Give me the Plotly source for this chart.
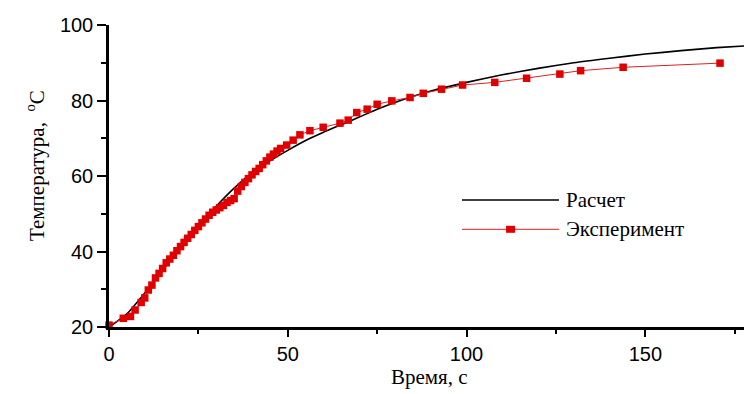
import plotly.graph_objects as go

# Calculated curve (Расчет)
calc_t = [0, 5, 10, 15, 20, 25, 30, 35, 40, 45, 50, 55, 60, 65, 70, 75, 80, 90,
          100, 110, 120, 130, 140, 150, 160, 170, 180]
calc_T = [20, 23.5, 29, 35, 41, 46.7, 52, 56.8, 60.8, 64, 66.8, 69.4, 71.6,
          73.6, 75.6, 77.7, 79.5, 82.5, 84.8, 86.8, 88.5, 90, 91.2, 92.3, 93.2, 94, 94.6]

# Experimental data (Эксперимент)
exp_t = [0, 4, 6, 7.3, 9, 10, 11, 12, 13, 14, 15, 16, 17, 18, 19, 20, 21, 22, 23,
         24, 25, 26, 27, 28, 29, 30, 31, 32, 33, 34, 35, 36, 37, 38, 39, 40, 41,
         42, 43, 44, 45, 46, 47, 48, 49.7, 51.5, 53.4, 56.2, 59.9, 64.6, 66.9,
         69.3, 72.2, 75, 79.1, 84.2, 87.9, 93, 98.9, 107.9, 116.8, 126.1, 131.9,
         143.8, 170.9]
exp_T = [20.5, 22.3, 22.8, 24.5, 26.5, 27.7, 29.8, 31.1, 33, 34.2, 35.5, 37, 38,
         39, 40.2, 41.3, 42.4, 43.5, 44.5, 45.6, 46.6, 47.6, 48.6, 49.6, 50.4, 51,
         51.6, 52.2, 53, 53.5, 54, 56, 57.2, 58.3, 59.3, 60.3, 61.2, 62, 63, 64,
         65, 65.8, 66.6, 67.3, 68.2, 69.5, 70.9, 72, 72.9, 74, 74.8, 76.8, 77.7,
         79, 79.9, 80.8, 81.9, 83, 84.1, 84.8, 85.9, 87, 87.9, 88.8, 89.9]

x_ticks = [0, 50, 100, 150]
y_ticks = [20, 40, 60, 80, 100]

RED = "#e00000"
serif = "Liberation Serif, Times New Roman, serif"
sans = "Liberation Sans, Arial, sans-serif"

fig = go.Figure()
fig.add_trace(go.Scatter(x=calc_t, y=calc_T, mode="lines", name="Расчет",
                         line=dict(color="black", width=1.6, shape="spline",
                                   smoothing=0.6), showlegend=False))
fig.add_trace(go.Scatter(x=exp_t, y=exp_T, mode="lines+markers", name="Эксперимент",
                         line=dict(color="#e02020", width=1),
                         marker=dict(symbol="square", size=7.5, color=RED),
                         cliponaxis=False, showlegend=False))

axis_common = dict(showline=True, linecolor="black", linewidth=2.5, ticks="outside",
                   tickcolor="black", tickwidth=2, showgrid=False, zeroline=False,
                   tickfont=dict(family=sans, size=20, color="black"))

fig.update_xaxes(range=[0, 177.6], tickvals=x_ticks, ticklen=7,
                 minor=dict(dtick=25, tick0=0, ticks="outside", ticklen=4,
                            tickwidth=2, tickcolor="black"),
                 **axis_common)
fig.update_yaxes(range=[20, 100], tickvals=y_ticks, ticklen=9,
                 minor=dict(dtick=10, tick0=0, ticks="outside", ticklen=5,
                            tickwidth=2, tickcolor="black"),
                 **axis_common)

# Legend drawn manually to match the long sample lines
lx0, lx1, lmark = 0.5559, 0.7087, 0.6324
ly1, ly2 = 0.4205, 0.3235
fig.add_shape(type="line", xref="paper", yref="paper", x0=lx0, x1=lx1, y0=ly1, y1=ly1,
              line=dict(color="black", width=1.6))
fig.add_shape(type="line", xref="paper", yref="paper", x0=lx0, x1=lx1, y0=ly2, y1=ly2,
              line=dict(color="#e02020", width=1))
fig.add_shape(type="rect", xref="paper", yref="paper", xsizemode="pixel",
              ysizemode="pixel", xanchor=lmark, yanchor=ly2, x0=-4.5, x1=4.5,
              y0=-3.5, y1=3.5, fillcolor=RED, line=dict(width=0))
fig.add_annotation(text="Расчет", xref="paper", yref="paper", x=0.717, y=ly1,
                   xanchor="left", yanchor="middle", showarrow=False,
                   font=dict(family=serif, size=21, color="black"))
fig.add_annotation(text="Эксперимент", xref="paper", yref="paper", x=0.717, y=ly2,
                   xanchor="left", yanchor="middle", showarrow=False,
                   font=dict(family=serif, size=21, color="black"))

# Axis titles
fig.add_annotation(text="Время, с", xref="paper", yref="paper", x=0.5055, y=-0.165,
                   xanchor="center", yanchor="middle", showarrow=False,
                   font=dict(family=serif, size=21, color="black"))
fig.add_annotation(text="Температура,  <sup>o</sup>C", xref="paper", yref="paper",
                   x=-0.1165, y=0.533, textangle=-90, xanchor="center",
                   yanchor="middle", showarrow=False,
                   font=dict(family=serif, size=21, color="black"))

fig.update_layout(width=744, height=394, margin=dict(l=109, r=0, t=25, b=67),
                  plot_bgcolor="white", paper_bgcolor="white")

fig.write_html("out.html", config={"displayModeBar": False},
               post_script="document.body.style.margin='0';"
                           "document.body.style.overflow='hidden';")
